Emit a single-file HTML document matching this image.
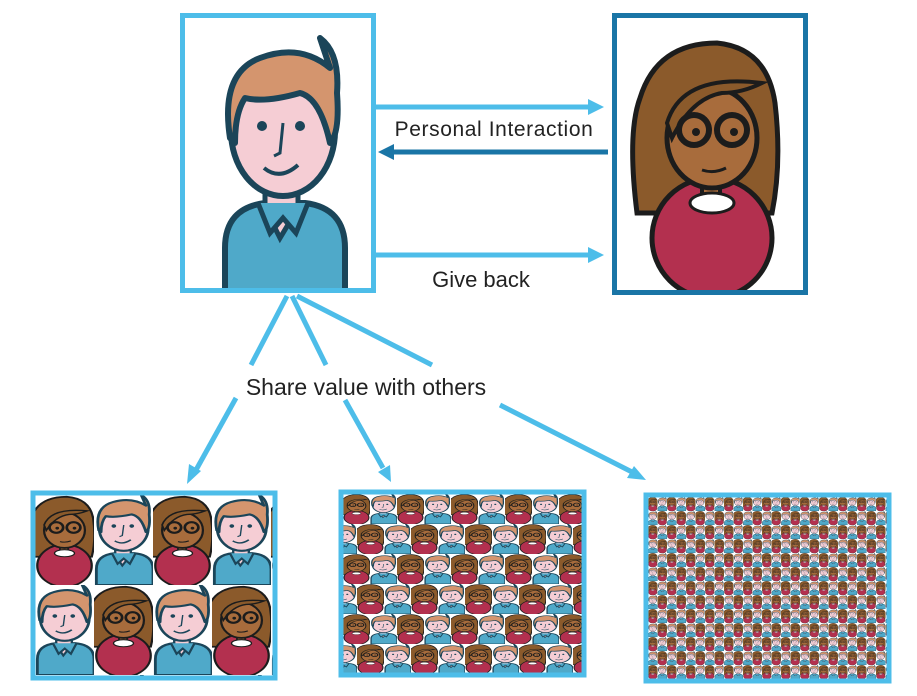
<!DOCTYPE html>
<html><head><meta charset="utf-8"><style>
html,body{margin:0;padding:0;background:#fff;}
svg{display:block}
text{font-family:"Liberation Sans",sans-serif;fill:#222}
</style></head><body>
<svg width="917" height="696" viewBox="0 0 917 696" xmlns="http://www.w3.org/2000/svg">
<defs>
 <g id="manG">
  <path d="M45 280 L45 235 Q45 195 85 190 L125 190 Q165 195 165 235 L165 280 Z" fill="#4fa9c9" stroke="#1b4559" stroke-width="6"/>
  <path d="M85 175 L85 195 L100 225 L118 195 L118 175 Z" fill="#f5cdd4" stroke="#1b4559" stroke-width="5"/>
  <path d="M78 190 L90 220 L103 205 L116 220 L128 190" fill="#4fa9c9" stroke="#1b4559" stroke-width="5"/>
  <ellipse cx="103" cy="118" rx="52" ry="65" fill="#f5cdd4" stroke="#1b4559" stroke-width="6"/>
  <path d="M50 125 Q40 60 80 45 Q120 30 150 55 L140 25 Q160 40 157 80 Q160 120 150 130 Q140 85 120 80 Q85 90 65 85 Q55 100 55 130 Z" fill="#d4956e" stroke="#1b4559" stroke-width="6" stroke-linejoin="round"/>
  <circle cx="82" cy="113" r="5" fill="#1b4559"/><circle cx="120" cy="113" r="5" fill="#1b4559"/>
  <path d="M84 155 Q100 168 118 152" fill="none" stroke="#1b4559" stroke-width="4"/>
  <path d="M103 110 L100 140 L94 143" fill="none" stroke="#1b4559" stroke-width="3"/>
 </g>
 <g id="womanG">
  <path d="M25 200 Q15 120 28 85 Q45 30 105 30 Q155 35 163 90 Q170 150 160 200 Z" fill="#8b5a2b" stroke="#1c1c1c" stroke-width="5"/>
  <circle cx="100" cy="225" r="60" fill="#b3304f" stroke="#1c1c1c" stroke-width="5"/>
  <rect x="90" y="160" width="18" height="30" fill="#a86c3c" stroke="#1c1c1c" stroke-width="4"/>
  <ellipse cx="100" cy="190" rx="22" ry="10" fill="#fff" stroke="#1c1c1c" stroke-width="3"/>
  <ellipse cx="100" cy="125" rx="45" ry="50" fill="#a86c3c" stroke="#1c1c1c" stroke-width="5"/>
  <path d="M55 110 Q70 60 150 70 Q130 80 110 80 Q80 85 60 125 Z" fill="#8b5a2b" stroke="#1c1c1c" stroke-width="4"/>
  <circle cx="82" cy="117" r="15" fill="none" stroke="#1c1c1c" stroke-width="6"/>
  <circle cx="120" cy="117" r="15" fill="none" stroke="#1c1c1c" stroke-width="6"/>
  <circle cx="84" cy="119" r="4" fill="#1c1c1c"/><circle cx="122" cy="119" r="4" fill="#1c1c1c"/>
  <path d="M90 157 Q102 161 114 155" fill="none" stroke="#1c1c1c" stroke-width="3"/>
 </g>
 <symbol id="man" viewBox="0 0 196 280" preserveAspectRatio="none"><use href="#manG"/></symbol>
 <symbol id="woman" viewBox="0 0 196 280" preserveAspectRatio="none"><use href="#womanG"/></symbol>
 <symbol id="m2" viewBox="40 25 125 255" preserveAspectRatio="none"><use href="#manG"/></symbol>
 <symbol id="w2" viewBox="35 25 130 255" preserveAspectRatio="none"><use href="#womanG"/></symbol>
 <pattern id="pA" x="35" y="495" width="118" height="180" patternUnits="userSpaceOnUse">
  <use href="#w2" x="0" y="0" width="59" height="90"/><use href="#m2" x="59" y="0" width="59" height="90"/>
  <use href="#m2" x="0" y="90" width="59" height="90"/><use href="#w2" x="59" y="90" width="59" height="90"/>
 </pattern>
 <pattern id="pB" x="343" y="494" width="54" height="60" patternUnits="userSpaceOnUse">
  <use href="#w2" x="0" y="0" width="27" height="30"/><use href="#m2" x="27" y="0" width="27" height="30"/>
  <use href="#m2" x="-13" y="30" width="27" height="30"/><use href="#w2" x="14" y="30" width="27" height="30"/><use href="#m2" x="41" y="30" width="27" height="30"/>
 </pattern>
 <pattern id="pC" x="648" y="497" width="19" height="28" patternUnits="userSpaceOnUse">
  <use href="#w2" x="0" y="0" width="9.5" height="14"/><use href="#m2" x="9.5" y="0" width="9.5" height="14"/>
  <use href="#m2" x="0" y="14" width="9.5" height="14"/><use href="#w2" x="9.5" y="14" width="9.5" height="14"/>
 </pattern>
</defs>

<g transform="translate(180,13)"><use href="#man" x="0" y="0" width="196" height="280"/></g>
<rect x="182.5" y="15.5" width="191" height="275" fill="none" stroke="#4dbde9" stroke-width="5"/>
<g transform="translate(612,13)"><use href="#woman" x="0" y="0" width="196" height="280"/></g>
<rect x="614.5" y="15.5" width="191" height="277" fill="none" stroke="#1a75a6" stroke-width="5"/>

<line x1="376" y1="107" x2="590" y2="107" stroke="#4dbde9" stroke-width="5"/>
<polygon points="588,99 604,107 588,115" fill="#4dbde9"/>
<line x1="608" y1="152" x2="392" y2="152" stroke="#1a75a6" stroke-width="5"/>
<polygon points="394,144 378,152 394,160" fill="#1a75a6"/>
<line x1="376" y1="255" x2="590" y2="255" stroke="#4dbde9" stroke-width="5"/>
<polygon points="588,247 604,255 588,263" fill="#4dbde9"/>
<text x="494" y="136" font-size="21" letter-spacing="0.6" text-anchor="middle">Personal Interaction</text>
<text x="481" y="287" font-size="22" text-anchor="middle">Give back</text>

<g stroke="#4dbde9" stroke-width="5" fill="none">
 <line x1="287" y1="296" x2="251" y2="365"/>
 <line x1="236" y1="398" x2="196" y2="470"/>
 <line x1="292" y1="296" x2="326" y2="365"/>
 <line x1="345" y1="400" x2="383" y2="468"/>
 <line x1="297" y1="296" x2="432" y2="365"/>
 <line x1="500" y1="405" x2="632" y2="472"/>
</g>
<polygon points="187,484 189,464 201,471" fill="#4dbde9"/>
<polygon points="391,482 378,472 390,465" fill="#4dbde9"/>
<polygon points="646,480 627,478 634,466" fill="#4dbde9"/>
<text x="366" y="395" font-size="23" text-anchor="middle">Share value with others</text>

<rect x="33" y="493" width="242" height="185" fill="url(#pA)" stroke="#4dbde9" stroke-width="5"/>
<rect x="341" y="492" width="243" height="183" fill="url(#pB)" stroke="#4dbde9" stroke-width="5"/>
<rect x="646" y="495" width="243" height="186" fill="url(#pC)" stroke="#4dbde9" stroke-width="5"/>
</svg>
</body></html>
